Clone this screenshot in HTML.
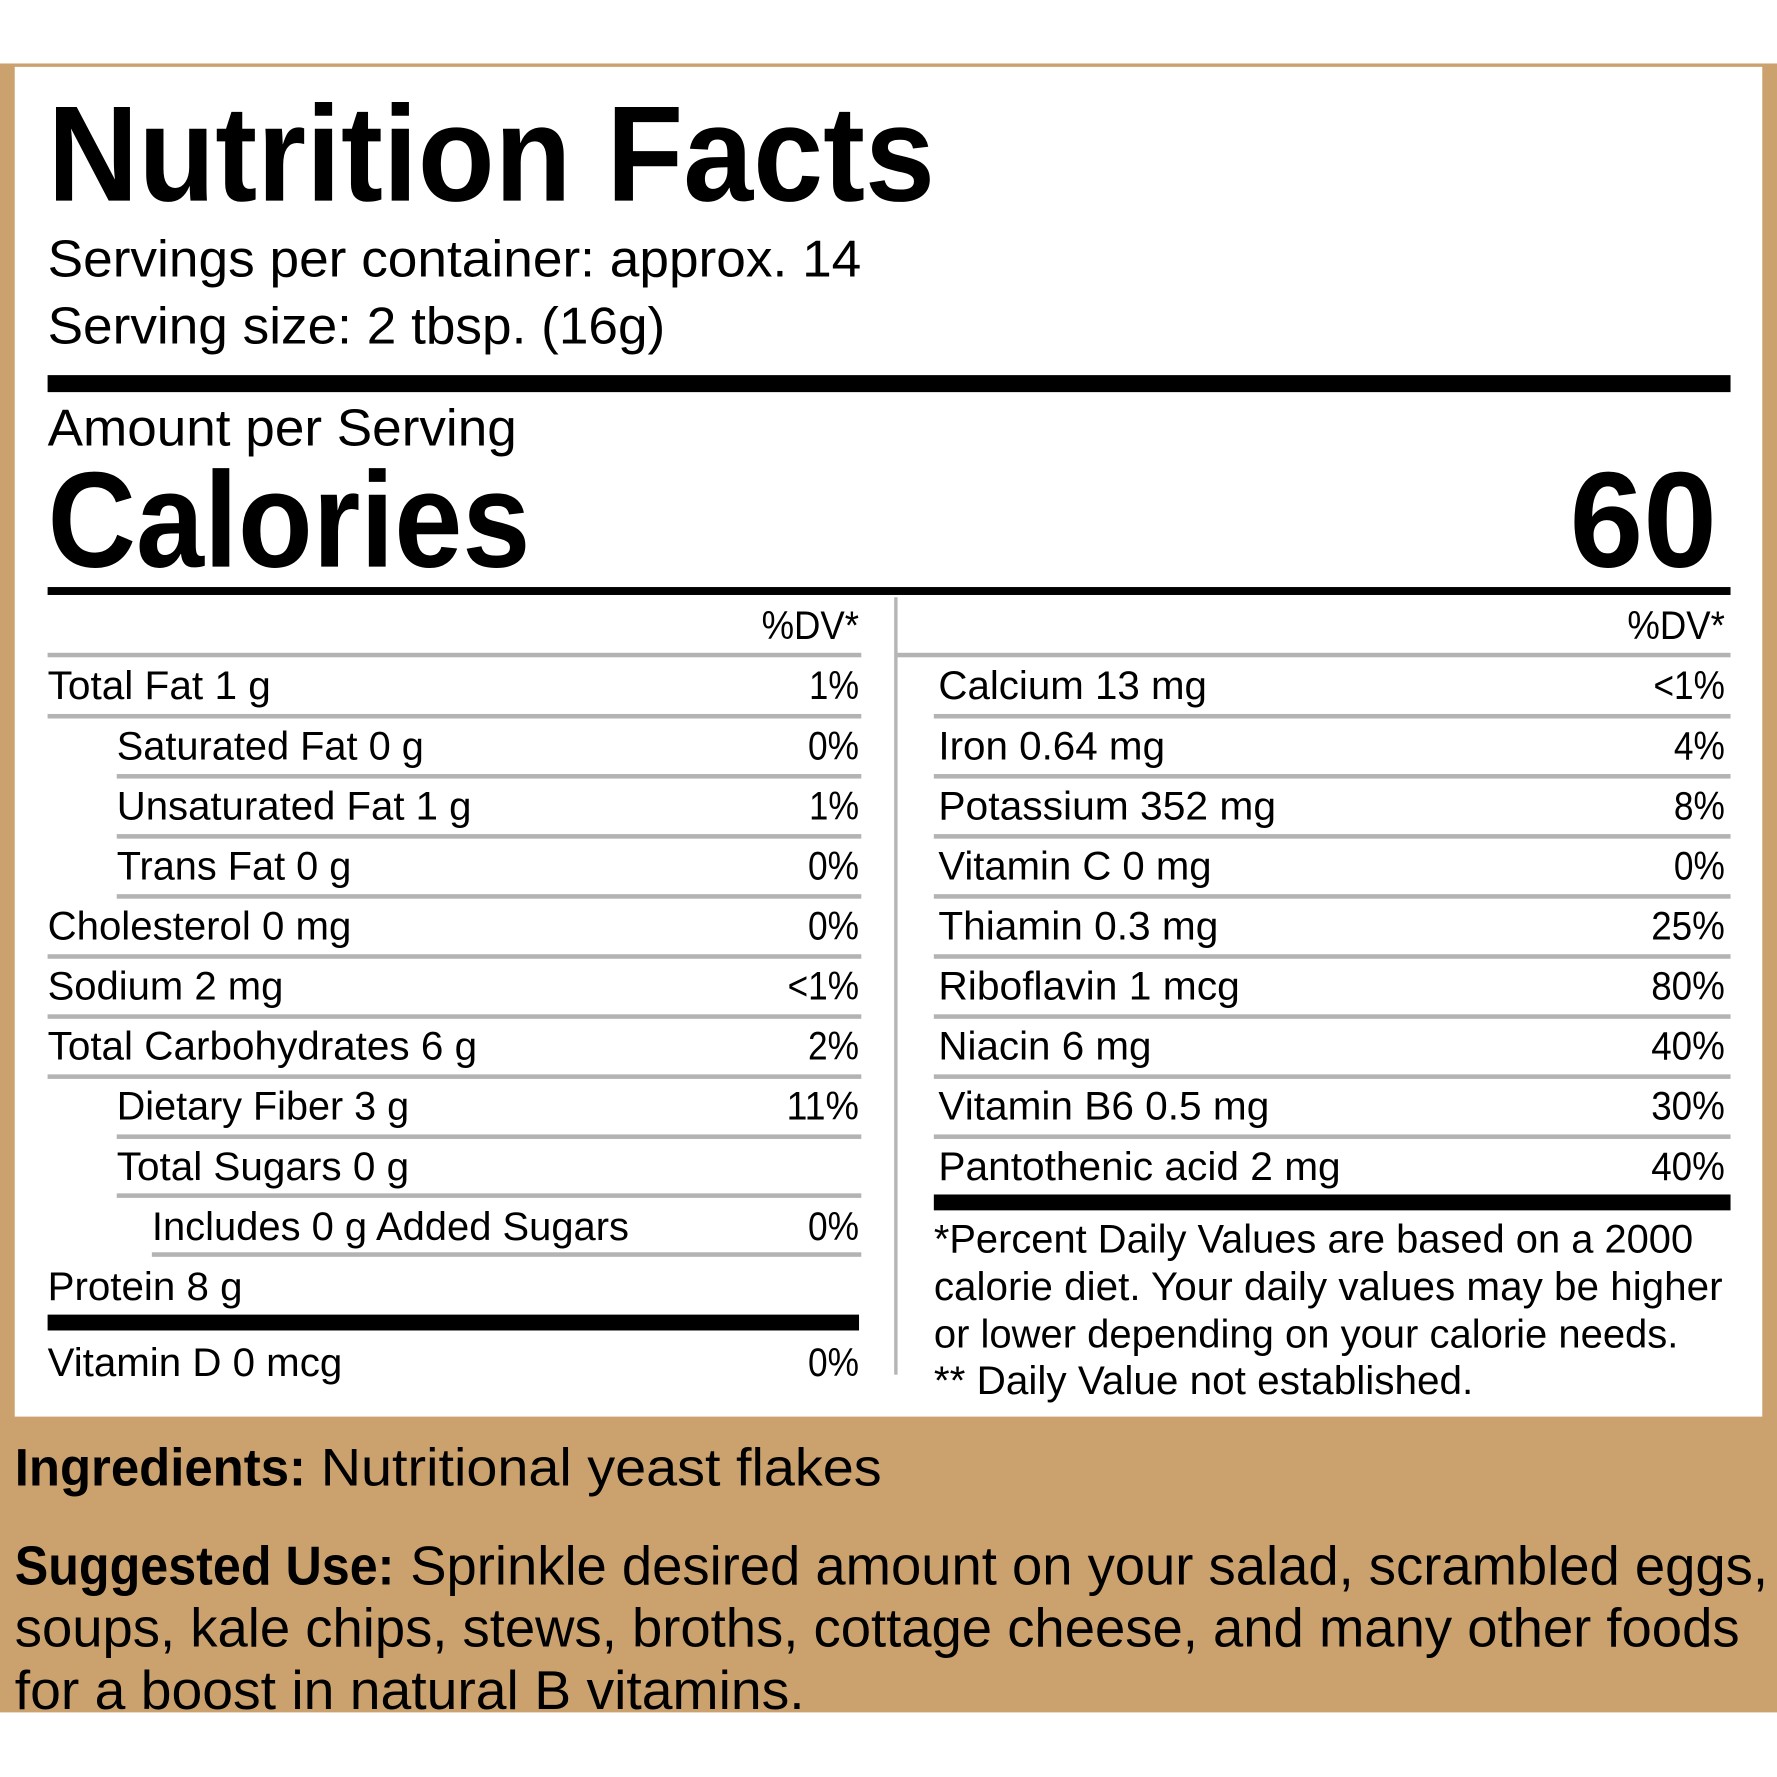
<!DOCTYPE html>
<html><head><meta charset="utf-8"><style>
html,body{margin:0;padding:0;background:#fff;}
svg{display:block;}
text{font-family:"Liberation Sans",sans-serif;fill:#000;}
.r{font-size:35px;}
.b{font-weight:bold;}
</style></head><body>
<svg width="1777" height="1777" viewBox="0 0 1568 1568" xmlns="http://www.w3.org/2000/svg">
<rect x="0" y="0" width="1568" height="1568" fill="#fff"/>
<rect x="0" y="56" width="1568" height="1455" fill="#CBA26D"/>
<rect x="13" y="59" width="1542" height="1191" fill="#fff"/>

<text x="42" y="177" class="b" font-size="120" textLength="783" lengthAdjust="spacingAndGlyphs">Nutrition Facts</text>
<text x="42" y="244" font-size="46" textLength="718" lengthAdjust="spacingAndGlyphs">Servings per container: approx. 14</text>
<text x="42" y="303" font-size="46" textLength="545" lengthAdjust="spacingAndGlyphs">Serving size: 2 tbsp. (16g)</text>
<rect x="42" y="331" width="1485" height="15" fill="#000"/>
<text x="42" y="393" font-size="46" textLength="414" lengthAdjust="spacingAndGlyphs">Amount per Serving</text>
<text x="42" y="500" class="b" font-size="120" textLength="426" lengthAdjust="spacingAndGlyphs">Calories</text>
<text x="1515" y="500" class="b" font-size="120" text-anchor="end" textLength="130" lengthAdjust="spacingAndGlyphs">60</text>
<rect x="42" y="518" width="1485" height="7" fill="#000"/>
<rect x="789" y="527" width="3" height="686" fill="#b5b5b5"/>

<text x="758" y="564" class="r" text-anchor="end" textLength="86" lengthAdjust="spacingAndGlyphs">%DV*</text>
<text x="1522" y="564" class="r" text-anchor="end" textLength="86" lengthAdjust="spacingAndGlyphs">%DV*</text>

<g fill="#b3b3b3">
<rect x="42" y="576" width="718" height="4"/>
<rect x="792" y="576" width="735" height="4"/>
<rect x="42" y="630" width="718" height="4"/>
<rect x="103" y="683" width="657" height="4"/>
<rect x="103" y="736" width="657" height="4"/>
<rect x="103" y="789" width="657" height="4"/>
<rect x="42" y="842" width="718" height="4"/>
<rect x="42" y="895" width="718" height="4"/>
<rect x="42" y="948" width="718" height="4"/>
<rect x="103" y="1001" width="657" height="4"/>
<rect x="103" y="1053" width="657" height="4"/>
<rect x="134" y="1105" width="626" height="4"/>
<rect x="824" y="630" width="703" height="4"/>
<rect x="824" y="683" width="703" height="4"/>
<rect x="824" y="736" width="703" height="4"/>
<rect x="824" y="789" width="703" height="4"/>
<rect x="824" y="842" width="703" height="4"/>
<rect x="824" y="895" width="703" height="4"/>
<rect x="824" y="948" width="703" height="4"/>
<rect x="824" y="1001" width="703" height="4"/>
</g>

<g class="r">
<text x="42" y="617" class="r" textLength="197" lengthAdjust="spacingAndGlyphs">Total Fat 1 g</text>
<text x="103" y="670" class="r" textLength="271" lengthAdjust="spacingAndGlyphs">Saturated Fat 0 g</text>
<text x="103" y="723" class="r" textLength="313" lengthAdjust="spacingAndGlyphs">Unsaturated Fat 1 g</text>
<text x="103" y="776" class="r" textLength="207" lengthAdjust="spacingAndGlyphs">Trans Fat 0 g</text>
<text x="42" y="829" class="r" textLength="268" lengthAdjust="spacingAndGlyphs">Cholesterol 0 mg</text>
<text x="42" y="882" class="r" textLength="208" lengthAdjust="spacingAndGlyphs">Sodium 2 mg</text>
<text x="42" y="935" class="r" textLength="379" lengthAdjust="spacingAndGlyphs">Total Carbohydrates 6 g</text>
<text x="103" y="988" class="r" textLength="258" lengthAdjust="spacingAndGlyphs">Dietary Fiber 3 g</text>
<text x="103" y="1041" class="r" textLength="258" lengthAdjust="spacingAndGlyphs">Total Sugars 0 g</text>
<text x="134" y="1094" class="r" textLength="421" lengthAdjust="spacingAndGlyphs">Includes 0 g Added Sugars</text>
<text x="42" y="1147" class="r" textLength="172" lengthAdjust="spacingAndGlyphs">Protein 8 g</text>
<text x="42" y="1214" class="r" textLength="260" lengthAdjust="spacingAndGlyphs">Vitamin D 0 mcg</text>

<text x="758" y="617" class="r" text-anchor="end" textLength="44" lengthAdjust="spacingAndGlyphs">1%</text>
<text x="758" y="670" class="r" text-anchor="end" textLength="45" lengthAdjust="spacingAndGlyphs">0%</text>
<text x="758" y="723" class="r" text-anchor="end" textLength="44" lengthAdjust="spacingAndGlyphs">1%</text>
<text x="758" y="776" class="r" text-anchor="end" textLength="45" lengthAdjust="spacingAndGlyphs">0%</text>
<text x="758" y="829" class="r" text-anchor="end" textLength="45" lengthAdjust="spacingAndGlyphs">0%</text>
<text x="758" y="882" class="r" text-anchor="end" textLength="63" lengthAdjust="spacingAndGlyphs">&lt;1%</text>
<text x="758" y="935" class="r" text-anchor="end" textLength="45" lengthAdjust="spacingAndGlyphs">2%</text>
<text x="758" y="988" class="r" text-anchor="end" textLength="64" lengthAdjust="spacingAndGlyphs">11%</text>
<text x="758" y="1094" class="r" text-anchor="end" textLength="45" lengthAdjust="spacingAndGlyphs">0%</text>
<text x="758" y="1214" class="r" text-anchor="end" textLength="45" lengthAdjust="spacingAndGlyphs">0%</text>

<text x="828" y="617" class="r" textLength="237" lengthAdjust="spacingAndGlyphs">Calcium 13 mg</text>
<text x="828" y="670" class="r" textLength="200" lengthAdjust="spacingAndGlyphs">Iron 0.64 mg</text>
<text x="828" y="723" class="r" textLength="298" lengthAdjust="spacingAndGlyphs">Potassium 352 mg</text>
<text x="828" y="776" class="r" textLength="241" lengthAdjust="spacingAndGlyphs">Vitamin C 0 mg</text>
<text x="828" y="829" class="r" textLength="247" lengthAdjust="spacingAndGlyphs">Thiamin 0.3 mg</text>
<text x="828" y="882" class="r" textLength="266" lengthAdjust="spacingAndGlyphs">Riboflavin 1 mcg</text>
<text x="828" y="935" class="r" textLength="188" lengthAdjust="spacingAndGlyphs">Niacin 6 mg</text>
<text x="828" y="988" class="r" textLength="292" lengthAdjust="spacingAndGlyphs">Vitamin B6 0.5 mg</text>
<text x="828" y="1041" class="r" textLength="355" lengthAdjust="spacingAndGlyphs">Pantothenic acid 2 mg</text>

<text x="1522" y="617" class="r" text-anchor="end" textLength="63" lengthAdjust="spacingAndGlyphs">&lt;1%</text>
<text x="1522" y="670" class="r" text-anchor="end" textLength="45" lengthAdjust="spacingAndGlyphs">4%</text>
<text x="1522" y="723" class="r" text-anchor="end" textLength="45" lengthAdjust="spacingAndGlyphs">8%</text>
<text x="1522" y="776" class="r" text-anchor="end" textLength="45" lengthAdjust="spacingAndGlyphs">0%</text>
<text x="1522" y="829" class="r" text-anchor="end" textLength="65" lengthAdjust="spacingAndGlyphs">25%</text>
<text x="1522" y="882" class="r" text-anchor="end" textLength="65" lengthAdjust="spacingAndGlyphs">80%</text>
<text x="1522" y="935" class="r" text-anchor="end" textLength="65" lengthAdjust="spacingAndGlyphs">40%</text>
<text x="1522" y="988" class="r" text-anchor="end" textLength="65" lengthAdjust="spacingAndGlyphs">30%</text>
<text x="1522" y="1041" class="r" text-anchor="end" textLength="65" lengthAdjust="spacingAndGlyphs">40%</text>

<text x="824" y="1105" class="r" textLength="670" lengthAdjust="spacingAndGlyphs">*Percent Daily Values are based on a 2000</text>
<text x="824" y="1147" class="r" textLength="696" lengthAdjust="spacingAndGlyphs">calorie diet. Your daily values may be higher</text>
<text x="824" y="1189" class="r" textLength="657" lengthAdjust="spacingAndGlyphs">or lower depending on your calorie needs.</text>
<text x="824" y="1230" class="r" textLength="476" lengthAdjust="spacingAndGlyphs">** Daily Value not established.</text>
</g>

<rect x="42" y="1160" width="716" height="14" fill="#000"/>
<rect x="824" y="1054" width="703" height="14" fill="#000"/>

<text x="13" y="1311" font-size="47" class="b" textLength="257" lengthAdjust="spacingAndGlyphs">Ingredients:</text>
<text x="283" y="1311" font-size="47" textLength="495" lengthAdjust="spacingAndGlyphs">Nutritional yeast flakes</text>
<text x="13" y="1398" font-size="48" class="b" textLength="335" lengthAdjust="spacingAndGlyphs">Suggested Use:</text>
<text x="362" y="1398" font-size="48" textLength="1198" lengthAdjust="spacingAndGlyphs">Sprinkle desired amount on your salad, scrambled eggs,</text>
<text x="13" y="1453" font-size="48" textLength="1522" lengthAdjust="spacingAndGlyphs">soups, kale chips, stews, broths, cottage cheese, and many other foods</text>
<text x="13" y="1508" font-size="48" textLength="697" lengthAdjust="spacingAndGlyphs">for a boost in natural B vitamins.</text>
</svg>
</body></html>
